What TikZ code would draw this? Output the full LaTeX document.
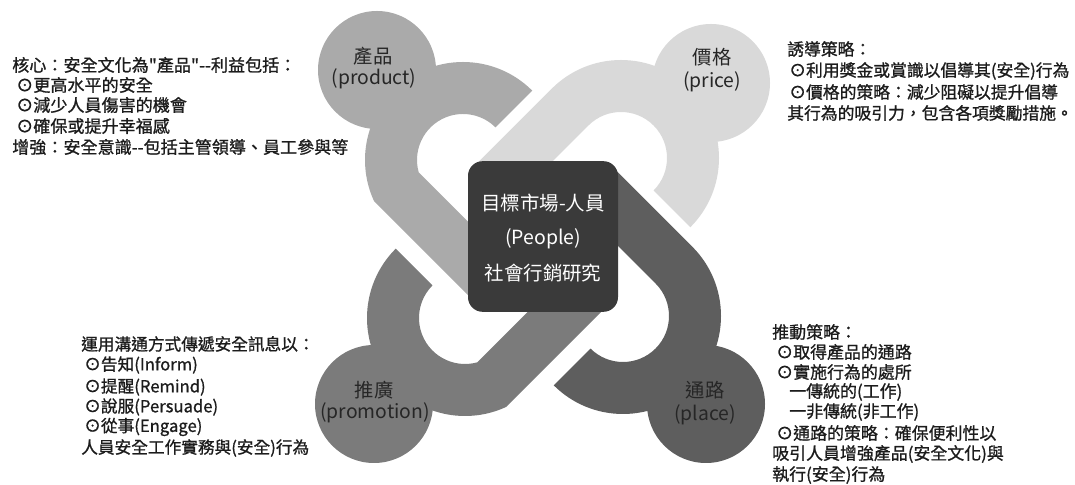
\documentclass[tikz,border=0pt]{standalone}
\usepackage{fontspec}
\newfontfamily\cjk{Noto Sans CJK TC}
\newfontfamily\cjkb{Noto Sans CJK TC}[FakeBold=1]
\usetikzlibrary{calc}
\definecolor{cprod}{HTML}{AAAAAA}
\definecolor{cprice}{HTML}{D9D9D9}
\definecolor{cpromo}{HTML}{7B7B7B}
\definecolor{cplace}{HTML}{5E5E5E}
\definecolor{cbox}{HTML}{3A3A3A}
\definecolor{ctext}{HTML}{1C1C1C}
\definecolor{clbl}{HTML}{262626}
% #1 ring centre, #2 angle of end cut, #3 colour, #4 ball centre,
% #5 outer leg offset, #6 inner leg offset, #7 leg length
\newcommand{\jpiece}[7]{%
  \fill[#3] (#4) circle[radius=59];
  \fill[#3] ($(#1)+(#2:98)$)
    arc[start angle=#2, end angle={#2+180-acos(#5/98)}, radius=98]
    -- ($(#1)+({#2+180}:#5)+({#2-90}:#7)$)
    -- ($(#1)+({#2+180}:#6)+({#2-90}:#7)$)
    -- ($(#1)+({#2+180-acos(#6/46)}:46)$)
    arc[start angle={#2+180-acos(#6/46)}, end angle=#2, radius=46] -- cycle;
}
\begin{document}
\begin{tikzpicture}[x=0.75pt,y=0.75pt,
  note/.style={anchor=west, inner sep=0pt, text=ctext},
  tl/.style={note, font=\cjkb\fontsize{12.8pt}{14pt}\selectfont},
  tr/.style={note, font=\cjkb\fontsize{12.6pt}{14pt}\selectfont},
  bl/.style={note, font=\cjkb\fontsize{12.5pt}{14pt}\selectfont},
  br/.style={note, font=\cjkb\fontsize{12.7pt}{14pt}\selectfont},
  lbl/.style={inner sep=0pt, font=\cjk\fontsize{14.5pt}{16pt}\selectfont, text=clbl},
  boxtxt/.style={inner sep=0pt, font=\cjk\fontsize{14.6pt}{16pt}\selectfont, text=white}]
\useasboundingbox (0,0) rectangle (1075,485);
% pieces
\coordinate (Cprod) at (463,325);
\coordinate (Cprice) at (621,327);
\coordinate (Cplace) at (623,169);
\coordinate (Cpromo) at (465,167);
\coordinate (Oprod) at (377,415);
\coordinate (Oprice) at (711,402);
\coordinate (Oplace) at (706,81);
\coordinate (Opromo) at (374,81);
\jpiece{Cprod}{45}{cprod}{Oprod}{92}{40}{105}
\jpiece{Cprice}{-45}{cprice}{Oprice}{98}{46}{110}
\jpiece{Cplace}{-135}{cplace}{Oplace}{98}{46}{110}
\jpiece{Cpromo}{135}{cpromo}{Opromo}{92}{40}{105}
% centre box
\node[fill=cbox, rounded corners=11pt, minimum width=112.5pt, minimum height=113pt, inner sep=0pt] (box) at (543,248.5) {};
\node[boxtxt] (b1) at (543,282) {目標市場-人員};
\node[boxtxt] (b2) at (543,246) {(People)};
\node[boxtxt] (b3) at (543,212) {社會行銷研究};
% circle labels
\node[lbl] (l1a) at (373,429) {產品};
\node[lbl] (l1b) at (374,406) {(product)};
\node[lbl] (l2a) at (712,428) {價格};
\node[lbl] (l2b) at (712,403) {(price)};
\node[lbl] (l3a) at (374,95) {推廣};
\node[lbl] (l3b) at (375,72) {(promotion)};
\node[lbl] (l4a) at (705,95) {通路};
\node[lbl] (l4b) at (705,70) {(place)};
% notes top-left
\node[tl] (a1) at (12,420) {核心：安全文化為"產品"--利益包括：};
\node[tl] (a2) at (16,400) {⊙更高水平的安全};
\node[tl] (a3) at (16,380) {⊙減少人員傷害的機會};
\node[tl] (a4) at (16,359) {⊙確保或提升幸福感};
\node[tl] (a5) at (12,338) {增強：安全意識--包括主管領導、員工參與等};
% notes top-right
\node[tr] (p1) at (787,436) {誘導策略：};
\node[tr] (p2) at (789,414) {⊙利用獎金或賞識以倡導其(安全)行為};
\node[tr] (p3) at (789,393) {⊙價格的策略：減少阻礙以提升倡導};
\node[tr] (p4) at (787,372) {其行為的吸引力，包含各項獎勵措施。};
% notes bottom-left
\node[bl] (m1) at (81,141) {運用溝通方式傳遞安全訊息以：};
\node[bl] (m2) at (84,120) {⊙告知(Inform)};
\node[bl] (m3) at (84,98) {⊙提醒(Remind)};
\node[bl] (m4) at (84,78) {⊙說服(Persuade)};
\node[bl] (m5) at (84,58) {⊙從事(Engage)};
\node[bl] (m6) at (81,37) {人員安全工作實務與(安全)行為};
% notes bottom-right
\node[br] (q1) at (772,153) {推動策略：};
\node[br] (q2) at (776,133) {⊙取得產品的通路};
\node[br] (q3) at (776,113) {⊙實施行為的處所};
\node[br] (q4) at (789,93) {一傳統的(工作)};
\node[br] (q5) at (789,73) {一非傳統(非工作)};
\node[br] (q6) at (776,52) {⊙通路的策略：確保便利性以};
\node[br] (q7) at (772,31) {吸引人員增強產品(安全文化)與};
\node[br] (q8) at (772,10) {執行(安全)行為};
\end{tikzpicture}
\end{document}
